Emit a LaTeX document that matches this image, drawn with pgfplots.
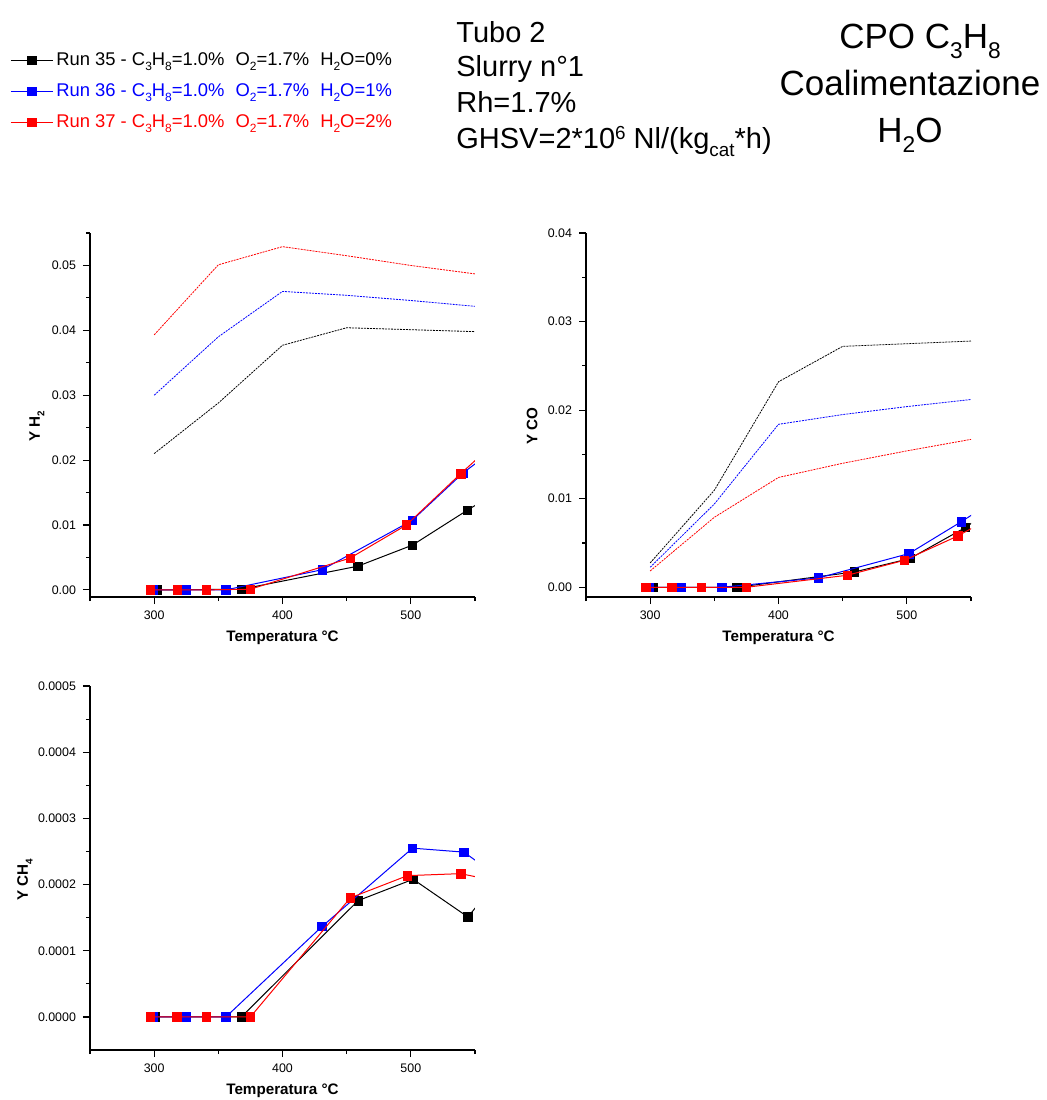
\documentclass[border=0pt]{standalone}
\usepackage{fontspec}
\setmainfont{Liberation Sans}
\usepackage{pgfplots}
\pgfplotsset{compat=1.18}
\newcommand\osub[1]{\raisebox{-0.3em}{\scalebox{0.65}{#1}}}
\newcommand\osup[1]{\raisebox{0.3em}{\scalebox{0.65}{#1}}}

\pgfplotsset{
  myaxis/.style={
    scale only axis, width=192.5pt, height=182pt,
    axis lines=left, axis line style={-, line width=1pt},
    tick align=outside, major tick length=3.5pt, minor tick length=2pt,
    tick style={line width=0.6pt, black},
    xmin=250, xmax=550,
    xtick={300,400,500}, xticklabels={300,400,500},
    minor xtick={250,350,450,550},
    tick label style={font=\fontsize{6.2}{7}\selectfont},
    scaled y ticks=false,
    clip marker paths=true,
    label style={font=\bfseries\fontsize{7.6}{9}\selectfont},
    xlabel={Temperatura °C},
    xlabel style={at={(axis description cs:0.5,-0.113)}, anchor=center},
  },
  blk/.style={black, line width=0.5pt, mark=square*, mark size=2.1pt, mark options={solid, line width=0.3pt}},
  blu/.style={blue, line width=0.5pt, mark=square*, mark size=2.1pt, mark options={solid, line width=0.3pt}},
  rd/.style={red, line width=0.5pt, mark=square*, mark size=2.1pt, mark options={solid, line width=0.3pt}},
  eq/.style={line width=0.4pt, dash pattern=on 1pt off 0.5pt, forget plot, mark=none},
}

\begin{document}
\begin{tikzpicture}
\path[use as bounding box] (0,0) rectangle (523.5pt,-550pt);

% ---------------- Y H2 ----------------
\begin{axis}[myaxis, at={(45pt,-298.5pt)}, anchor=south west,
  ymin=-0.0011, ymax=0.055,
  ytick={0,0.01,0.02,0.03,0.04,0.05},
  yticklabels={0.00,0.01,0.02,0.03,0.04,0.05},
  minor ytick={0.005,0.015,0.025,0.035,0.045,0.055},
  ylabel={Y H\osub{2}},
  ylabel style={at={(axis description cs:-0.138,0.47)}, anchor=center},
  legend style={at={(axis description cs:-0.208,1.506)}, anchor=north west,
    draw=none, fill=none, inner sep=0pt, row sep=4.6pt,
    font=\fontsize{9.2}{10}\selectfont, nodes={inner sep=1.5pt}},
  legend cell align=left,
  legend image code/.code={\draw[mark repeat=2,mark phase=2] plot coordinates {(0pt,0pt)(10.5pt,0pt)(21pt,0pt)};},
]
\addplot[eq, black] coordinates {(300,0.0210)(350,0.0288)(400,0.0377)(450,0.0404)(500,0.0401)(550,0.0398)};
\addplot[eq, blue] coordinates {(300,0.0300)(350,0.0390)(400,0.0460)(450,0.0454)(500,0.0446)(550,0.0437)};
\addplot[eq, red] coordinates {(300,0.0393)(350,0.0501)(400,0.0529)(450,0.0515)(500,0.0500)(550,0.0487)};
\addplot[blk] coordinates {(302.3,0)(368,0.0001)(458.7,0.00365)(501.3,0.0069)(544.2,0.0123)(580,0.0166)};
\addlegendentry{Run 35 - C\osub{3}H\osub{8}=1.0\%\hspace{0.6em}O\osub{2}=1.7\%\hspace{0.6em}H\osub{2}O=0\%}
\addplot[blu] coordinates {(299,0)(324.9,0)(355.8,0)(430.8,0.0031)(501,0.0107)(540.6,0.0180)(580,0.0239)};
\addlegendentry{\textcolor{blue}{Run 36 - C\osub{3}H\osub{8}=1.0\%\hspace{0.6em}O\osub{2}=1.7\%\hspace{0.6em}H\osub{2}O=1\%}}
\addplot[rd] coordinates {(296.9,0)(317.9,0)(340.5,0)(374.9,0.0001)(452.7,0.0049)(496.6,0.0100)(538.8,0.0179)(580,0.0253)};
\addlegendentry{\textcolor{red}{Run 37 - C\osub{3}H\osub{8}=1.0\%\hspace{0.6em}O\osub{2}=1.7\%\hspace{0.6em}H\osub{2}O=2\%}}
\end{axis}

% ---------------- Y CO ----------------
\begin{axis}[myaxis, at={(293pt,-298.5pt)}, anchor=south west,
  ymin=-0.0011, ymax=0.04,
  ytick={0,0.01,0.02,0.03,0.04},
  yticklabels={0.00,0.01,0.02,0.03,0.04},
  minor ytick={0.005,0.015,0.025,0.035},
  ylabel={Y CO},
  ylabel style={at={(axis description cs:-0.14,0.47)}, anchor=center},
]
\addplot[eq, black] coordinates {(300,0.00275)(350,0.01095)(400,0.0232)(450,0.0272)(500,0.0275)(550,0.0278)};
\addplot[eq, blue] coordinates {(300,0.00226)(350,0.0094)(400,0.0184)(450,0.0195)(500,0.0204)(550,0.0212)};
\addplot[eq, red] coordinates {(300,0.00184)(350,0.0079)(400,0.0124)(450,0.0140)(500,0.0154)(550,0.0167)};
\addplot[blk] coordinates {(302,0)(367.6,0)(459.2,0.00173)(502.3,0.00324)(545.5,0.00674)(580,0.0102)};
\addplot[blu] coordinates {(299,0)(324,0)(355.7,0)(431,0.00105)(501.6,0.0038)(542.4,0.0074)(580,0.0109)};
\addplot[rd] coordinates {(296.6,0)(316.9,0)(340,0)(374.9,0)(453.4,0.00135)(498.2,0.00305)(539.8,0.0058)(580,0.0090)};
\end{axis}

% ---------------- Y CH4 ----------------
\begin{axis}[myaxis, at={(45pt,-525pt)}, anchor=south west,
  ymin=-0.00005, ymax=0.0005,
  ytick={0,0.0001,0.0002,0.0003,0.0004,0.0005},
  yticklabels={0.0000,0.0001,0.0002,0.0003,0.0004,0.0005},
  minor ytick={0.00005,0.00015,0.00025,0.00035,0.00045},
  ylabel={Y CH\osub{4}},
  ylabel style={at={(axis description cs:-0.169,0.467)}, anchor=center},
]
\addplot[blk] coordinates {(301,0)(368,0)(458.9,0.0001757)(501.8,0.000208)(544.5,0.000151)(580,0.000236)};
\addplot[blu] coordinates {(299,0)(324.6,0)(355.9,0)(430.7,0.0001365)(501.3,0.000255)(541.4,0.000249)(580,0.000195)};
\addplot[rd] coordinates {(297,0)(317.7,0)(340.4,0)(375,0)(452.9,0.00018)(497.4,0.0002135)(538.8,0.0002165)(580,0.0002)};
\end{axis}

% ---------------- header texts ----------------
\node[anchor=base west, font=\fontsize{14.5}{16}\selectfont, inner sep=0pt] at (228pt,-21pt) {Tubo 2};
\node[anchor=base west, font=\fontsize{14.5}{16}\selectfont, inner sep=0pt] at (228pt,-38pt) {Slurry n°1};
\node[anchor=base west, font=\fontsize{14.5}{16}\selectfont, inner sep=0pt] at (228pt,-56pt) {Rh=1.7\%};
\node[anchor=base west, font=\fontsize{14.5}{16}\selectfont, inner sep=0pt] at (228pt,-74pt) {GHSV=2*10\osup{6} Nl/(kg\osub{cat}*h)};
\node[anchor=base, font=\fontsize{17.5}{19}\selectfont, inner sep=0pt] at (460pt,-24pt) {CPO C\osub{3}H\osub{8}};
\node[anchor=base, font=\fontsize{17.5}{19}\selectfont, inner sep=0pt] at (455pt,-47.5pt) {Coalimentazione};
\node[anchor=base, font=\fontsize{17.5}{19}\selectfont, inner sep=0pt] at (455pt,-71pt) {H\osub{2}O};
\end{tikzpicture}
\end{document}
